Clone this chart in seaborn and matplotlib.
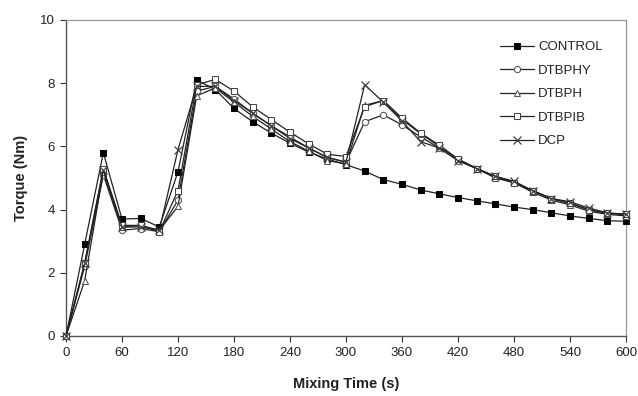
import numpy as np
import pandas as pd
import seaborn as sns
import matplotlib
matplotlib.use("Agg")
import matplotlib.pyplot as plt

time_s = list(range(0, 601, 20))

control = [0, 2.9, 5.8, 3.7, 3.72, 3.45, 5.2, 8.1, 7.8, 7.2, 6.78, 6.42, 6.1, 5.82, 5.6,
           5.42, 5.22, 4.95, 4.8, 4.62, 4.5, 4.38, 4.28, 4.18, 4.08, 4.0, 3.9, 3.8, 3.72, 3.65, 3.63]
dtbphy = [0, 2.2, 5.1, 3.35, 3.4, 3.3, 4.3, 7.75, 7.9, 7.5, 7.05, 6.65, 6.3, 5.95, 5.65,
          5.5, 6.78, 7.0, 6.68, 6.3, 5.95, 5.55, 5.3, 5.05, 4.85, 4.6, 4.35, 4.2, 4.0, 3.88, 3.85]
dtbph = [0, 1.75, 5.2, 3.45, 3.5, 3.35, 4.1, 7.6, 7.85, 7.4, 6.95, 6.55, 6.15, 5.85, 5.55,
         5.45, 7.3, 7.45, 6.85, 6.4, 6.0, 5.6, 5.3, 5.0, 4.85, 4.55, 4.3, 4.15, 3.95, 3.85, 3.8]
dtbpib = [0, 2.3, 5.3, 3.5, 3.5, 3.3, 4.6, 7.95, 8.12, 7.75, 7.25, 6.85, 6.45, 6.08, 5.75,
          5.68, 7.26, 7.45, 6.9, 6.42, 6.04, 5.6, 5.3, 5.05, 4.85, 4.6, 4.35, 4.2, 4.0, 3.88, 3.85]
dcp = [0, 2.3, 5.25, 3.45, 3.45, 3.35, 5.9, 7.9, 7.9, 7.45, 7.05, 6.65, 6.25, 5.95, 5.65,
       5.5, 7.95, 7.4, 6.8, 6.15, 5.95, 5.55, 5.3, 5.05, 4.9, 4.6, 4.35, 4.25, 4.05, 3.9, 3.85]

series_names = ["CONTROL", "DTBPHY", "DTBPH", "DTBPIB", "DCP"]
series_values = [control, dtbphy, dtbph, dtbpib, dcp]

sns.set_theme(style="white")
plt.rcParams['font.family'] = ['Liberation Sans', 'DejaVu Sans']

fig = plt.figure(figsize=(6.38, 3.96), dpi=100)
ax = fig.add_axes([66/638, 1-336/396, 560/638, 316/396])

styles = {
    "CONTROL": dict(marker="s", markerfacecolor="black", markeredgecolor="black", markersize=5),
    "DTBPHY": dict(marker="o", markerfacecolor="white", markeredgecolor="#555555", markersize=4.5),
    "DTBPH": dict(marker="^", markerfacecolor="white", markeredgecolor="#555555", markersize=5),
    "DTBPIB": dict(marker="s", markerfacecolor="white", markeredgecolor="#444444", markersize=5),
    "DCP": dict(marker="x", markeredgecolor="#444444", markersize=6, markeredgewidth=0.9),
}

for name, vals in zip(series_names, series_values):
    df = pd.DataFrame({"t": time_s, "y": vals})
    st = dict(styles[name])
    sns.lineplot(data=df, x="t", y="y", ax=ax, color="#222222", linewidth=0.9,
                 label=name, clip_on=False, zorder=3, **st)

ax.set_xlim(0, 600)
ax.set_ylim(0, 10)
ax.set_xticks(range(0, 601, 60))
ax.set_yticks(range(0, 11, 2))
ax.tick_params(axis="both", which="major", direction="out", length=4, width=0.8,
               colors="#333333", labelsize=9.5, left=True, bottom=True, pad=4)
for lab in ax.get_xticklabels() + ax.get_yticklabels():
    lab.set_color("#222222")
ax.set_xlabel("Mixing Time (s)", fontsize=10.5, fontweight="bold", color="#222222", labelpad=13)
ax.set_ylabel("Torque (Nm)", fontsize=10.5, fontweight="bold", color="#222222", labelpad=9)

for side in ["top", "right"]:
    ax.spines[side].set_color("#999999")
    ax.spines[side].set_linewidth(0.9)
for side in ["left", "bottom"]:
    ax.spines[side].set_color("#555555")
    ax.spines[side].set_linewidth(1.0)

leg = ax.legend(loc="upper left", bbox_to_anchor=(0.765, 0.95), frameon=False,
                fontsize=9.5, handlelength=2.6, labelspacing=0.85, handletextpad=0.3,
                borderaxespad=0)
for t in leg.get_texts():
    t.set_color("#222222")

fig.savefig("out.png", dpi=100)
